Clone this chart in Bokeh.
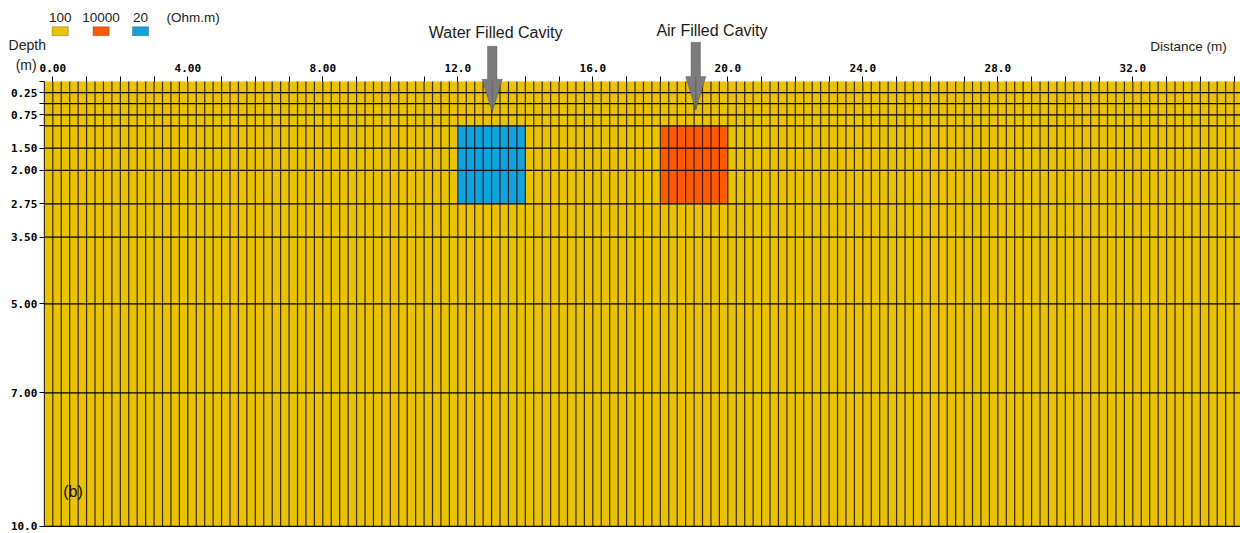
import numpy as np
from bokeh.plotting import figure
from bokeh.models import (Range1d, FixedTicker, LinearAxis, Label,
                          PolyAnnotation)
from bokeh.embed import file_html
from bokeh.resources import INLINE

# ---- model definition (Res2DMod style forward model) ----
cell_width = 0.25                     # m, horizontal mesh spacing
x_first, x_last = -0.25, 35.25        # m, mesh extent
layer_depths = [0.0, 0.25, 0.5, 0.75, 1.0, 1.5, 2.0, 2.75, 3.5, 5.0, 7.0, 10.0]
depth_labels = {0.25: "0.25", 0.75: "0.75", 1.5: "1.50", 2.0: "2.00",
                2.75: "2.75", 3.5: "3.50", 5.0: "5.00", 7.0: "7.00", 10.0: "10.0"}
distance_labels = {0: "0.00", 4: "4.00", 8: "8.00", 12: "12.0", 16: "16.0",
                   20: "20.0", 24: "24.0", 28: "28.0", 32: "32.0"}

background_res = 100                  # Ohm.m
cavity_names = ["Water Filled Cavity", "Air Filled Cavity"]
cavity_res = [20, 10000]              # Ohm.m
cavity_x0 = [12.0, 18.0]
cavity_x1 = [14.0, 20.0]
cavity_top = [1.0, 1.0]
cavity_bottom = [2.75, 2.75]
arrow_x = [13.02, 19.05]
caption_x = [13.12, 19.53]

legend_values = [100, 10000, 20]
res_colors = {100: "#EBC200", 10000: "#FF5A00", 20: "#10A3E0"}

FONT = "Liberation Sans"
MONO = "DejaVu Sans Mono"

# the frame spans the whole page so the legend, captions and arrows above
# the section can be drawn in model coordinates
p = figure(width=1240, height=533, output_backend="svg", toolbar_location=None,
           x_range=Range1d(-1.55, 35.19), y_range=Range1d(10.16, -1.82),
           x_axis_location=None, y_axis_location=None,
           min_border_left=0, min_border_right=0, min_border_top=0,
           min_border_bottom=0, outline_line_color=None)
p.xgrid.visible = False
p.ygrid.visible = False
p.background_fill_color = "white"

# background half-space
p.quad(left=[x_first], right=[x_last], top=[0], bottom=[layer_depths[-1]],
       fill_color=res_colors[background_res], line_color=None)

# cavities
p.quad(left=cavity_x0, right=cavity_x1, top=cavity_top, bottom=cavity_bottom,
       fill_color=[res_colors[r] for r in cavity_res], line_color=None)

# model mesh
xs_lines = np.arange(x_first, x_last + 1e-9, cell_width)
p.multi_line(xs=[[x, x] for x in xs_lines],
             ys=[[0, layer_depths[-1]] for _ in xs_lines],
             line_color="#151005", line_width=1.2, line_alpha=0.85)
p.multi_line(xs=[[x_first, x_last] for d in layer_depths[1:]],
             ys=[[d, d] for d in layer_depths[1:]],
             line_color="black", line_width=1.2)

# distance axis along the surface
xt = list(range(0, 36))
xaxis = LinearAxis(ticker=FixedTicker(ticks=xt), fixed_location=0,
                   major_label_overrides={t: distance_labels.get(t, "") for t in xt})
xaxis.axis_line_color = None
xaxis.major_tick_line_color = "black"
xaxis.major_tick_out = 5
xaxis.major_tick_in = 0
xaxis.minor_tick_line_color = None
xaxis.major_label_standoff = 4
xaxis.major_label_text_font = MONO
xaxis.major_label_text_font_style = "bold"
xaxis.major_label_text_font_size = "11px"
xaxis.major_label_text_color = "black"
p.add_layout(xaxis, "above")

# depth axis along the left edge of the mesh
yaxis = LinearAxis(ticker=FixedTicker(ticks=layer_depths), fixed_location=x_first,
                   major_label_overrides={d: depth_labels.get(d, "") for d in layer_depths})
yaxis.axis_line_color = None
yaxis.major_tick_line_color = "black"
yaxis.major_tick_out = 5
yaxis.major_tick_in = 0
yaxis.minor_tick_line_color = None
yaxis.major_label_standoff = 2
yaxis.major_label_text_font = MONO
yaxis.major_label_text_font_style = "bold"
yaxis.major_label_text_font_size = "11px"
yaxis.major_label_text_color = "black"
p.add_layout(yaxis, "left")

# cavity arrows (shaft above the section, head pointing into the model)
shaft_top = [-0.79, -0.88]
head_base = [-0.05, -0.11]
tip_depth = [0.70, 0.64]
half_shaft, half_head = 0.14, 0.30
for xc, st, hb, td in zip(arrow_x, shaft_top, head_base, tip_depth):
    xs = [xc - half_shaft, xc + half_shaft, xc + half_shaft, xc + half_head,
          xc, xc - half_head, xc - half_shaft]
    ys = [st, st, hb, hb, td, hb, hb]
    p.add_layout(PolyAnnotation(xs=xs, ys=ys, fill_color="#7C7C7C", fill_alpha=1,
                                line_color="#333333", line_width=1))
    # ridge down the middle of the head
    p.add_layout(PolyAnnotation(xs=[xc, xc + 0.01, xc], ys=[hb, td, td],
                                fill_color="#555555", fill_alpha=1,
                                line_color="#555555", line_width=1))

# cavity captions
caption_y = [-1.1, -1.14]
for name, xc, cy in zip(cavity_names, caption_x, caption_y):
    p.add_layout(Label(x=xc, y=cy, text=name, text_font=FONT,
                       text_font_size="16px", text_color="#1a1a1a",
                       text_align="center", text_baseline="middle"))

# axis titles
p.add_layout(Label(x=-1.31, y=-0.82, text="Depth", text_font=FONT,
                   text_font_size="14px", text_color="#222222",
                   text_align="left", text_baseline="middle"))
p.add_layout(Label(x=-1.1, y=-0.37, text="(m)", text_font=FONT,
                   text_font_size="14px", text_color="#222222",
                   text_align="left", text_baseline="middle"))
p.add_layout(Label(x=34.78, y=-0.78, text="Distance (m)", text_font=FONT,
                   text_font_size="13.5px", text_color="#222222",
                   text_align="right", text_baseline="middle"))
p.add_layout(Label(x=0.31, y=9.22, text="(b)", text_font=FONT,
                   text_font_size="16px", text_color="#111111",
                   text_align="left", text_baseline="middle"))

# resistivity legend
legend_x = [0.22, 1.43, 2.60]
sw_w = 0.48
for val, lx in zip(legend_values, legend_x):
    p.add_layout(PolyAnnotation(xs=[lx - sw_w / 2, lx + sw_w / 2, lx + sw_w / 2, lx - sw_w / 2],
                                ys=[-1.23, -1.23, -1.03, -1.03],
                                fill_color=res_colors[val], fill_alpha=1,
                                line_color="#333333", line_width=1))
    p.add_layout(Label(x=lx, y=-1.43, text=str(val), text_font=FONT,
                       text_font_size="13.5px", text_color="#222222",
                       text_align="center", text_baseline="middle"))
p.add_layout(Label(x=3.37, y=-1.43, text="(Ohm.m)", text_font=FONT,
                   text_font_size="13.5px", text_color="#222222",
                   text_align="left", text_baseline="middle"))

open("out.html", "w").write(file_html(p, INLINE))
